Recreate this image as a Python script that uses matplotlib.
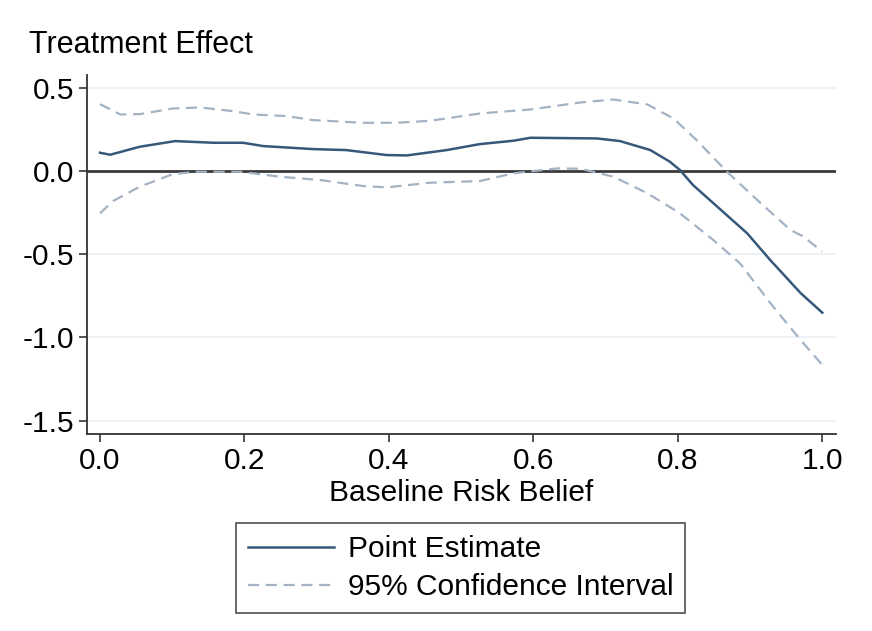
import matplotlib.pyplot as plt
import numpy as np

plt.rcParams['font.family'] = ['Liberation Sans', 'DejaVu Sans']

# values
risk = [0.0, 0.014, 0.055, 0.104, 0.157, 0.198, 0.226, 0.295, 0.341, 0.397, 0.425,
        0.480, 0.526, 0.572, 0.596, 0.688, 0.720, 0.762, 0.789, 0.803, 0.821,
        0.896, 0.928, 0.970, 1.0]
point_est = [0.110, 0.098, 0.146, 0.180, 0.170, 0.170, 0.150, 0.132, 0.126, 0.096, 0.094,
             0.126, 0.162, 0.182, 0.200, 0.196, 0.180, 0.126, 0.056, 0.006, -0.084,
             -0.374, -0.535, -0.733, -0.851]

risk_up = [0.0, 0.028, 0.055, 0.101, 0.139, 0.184, 0.212, 0.259, 0.295, 0.364, 0.411,
           0.457, 0.526, 0.596, 0.665, 0.711, 0.758, 0.794, 0.826, 0.868, 0.910,
           0.956, 0.974, 1.0]
ci_upper = [0.402, 0.340, 0.342, 0.376, 0.382, 0.360, 0.340, 0.330, 0.306, 0.290, 0.290,
            0.302, 0.346, 0.370, 0.412, 0.430, 0.400, 0.316, 0.186, -0.004, -0.174,
            -0.354, -0.394, -0.484]

risk_lo = [0.0, 0.018, 0.055, 0.101, 0.134, 0.194, 0.249, 0.305, 0.364, 0.397, 0.457,
           0.526, 0.572, 0.633, 0.665, 0.711, 0.758, 0.803, 0.849, 0.886, 0.932,
           0.970, 1.0]
ci_lower = [-0.254, -0.180, -0.094, -0.018, -0.004, -0.004, -0.034, -0.054, -0.090, -0.098,
            -0.070, -0.060, -0.014, 0.016, 0.014, -0.034, -0.134, -0.254, -0.414, -0.554,
            -0.815, -1.015, -1.165]

yticks = [0.5, 0.0, -0.5, -1.0, -1.5]
xticks = [0.0, 0.2, 0.4, 0.6, 0.8, 1.0]

fs = 21.5

fig = plt.figure(figsize=(8.72, 6.31), dpi=100)
ax = fig.add_axes([0.0998, 0.3122, 0.8589, 0.5689])

for y in yticks:
    if y != 0:
        ax.axhline(y, color='#eaf0f6', linewidth=1.2, zorder=0)
ax.axhline(0, color='#3a3a3a', linewidth=2, zorder=1)

ax.plot(risk, point_est, color='#36587a', linewidth=1.8, label='Point Estimate', zorder=3)
ax.plot(risk_up, ci_upper, color='#a3b3c3', linewidth=1.6, linestyle=(0, (5, 3)),
        label='95% Confidence Interval', zorder=2)
ax.plot(risk_lo, ci_lower, color='#a3b3c3', linewidth=1.6, linestyle=(0, (5, 3)), zorder=2)

ax.set_xlim(-0.018, 1.019)
ax.set_ylim(-1.58, 0.577)
ax.set_yticks(yticks)
ax.set_yticklabels([f'{v:.1f}' for v in yticks])
ax.set_xticks(xticks)
ax.set_xticklabels([f'{v:.1f}' for v in xticks])
ax.tick_params(axis='both', labelsize=fs, length=6, width=1.2, color='#333333',
               direction='out', pad=3)
for s in ['top', 'right']:
    ax.spines[s].set_visible(False)
for s in ['left', 'bottom']:
    ax.spines[s].set_color('#333333')
    ax.spines[s].set_linewidth(1.3)

ax.set_xlabel('Baseline Risk Belief', fontsize=fs, labelpad=3)
fig.text(0.033, 0.929, 'Treatment Effect', fontsize=22, va='center', ha='left')

leg = fig.legend(loc='center', bbox_to_anchor=(0.528, 0.0995), fontsize=fs,
                 frameon=True, fancybox=False, edgecolor='#222222', handlelength=2.9,
                 borderpad=0.4, labelspacing=0.35, handletextpad=0.45, borderaxespad=0)
leg.get_frame().set_linewidth(1.2)

fig.savefig('out.png', dpi=100)
